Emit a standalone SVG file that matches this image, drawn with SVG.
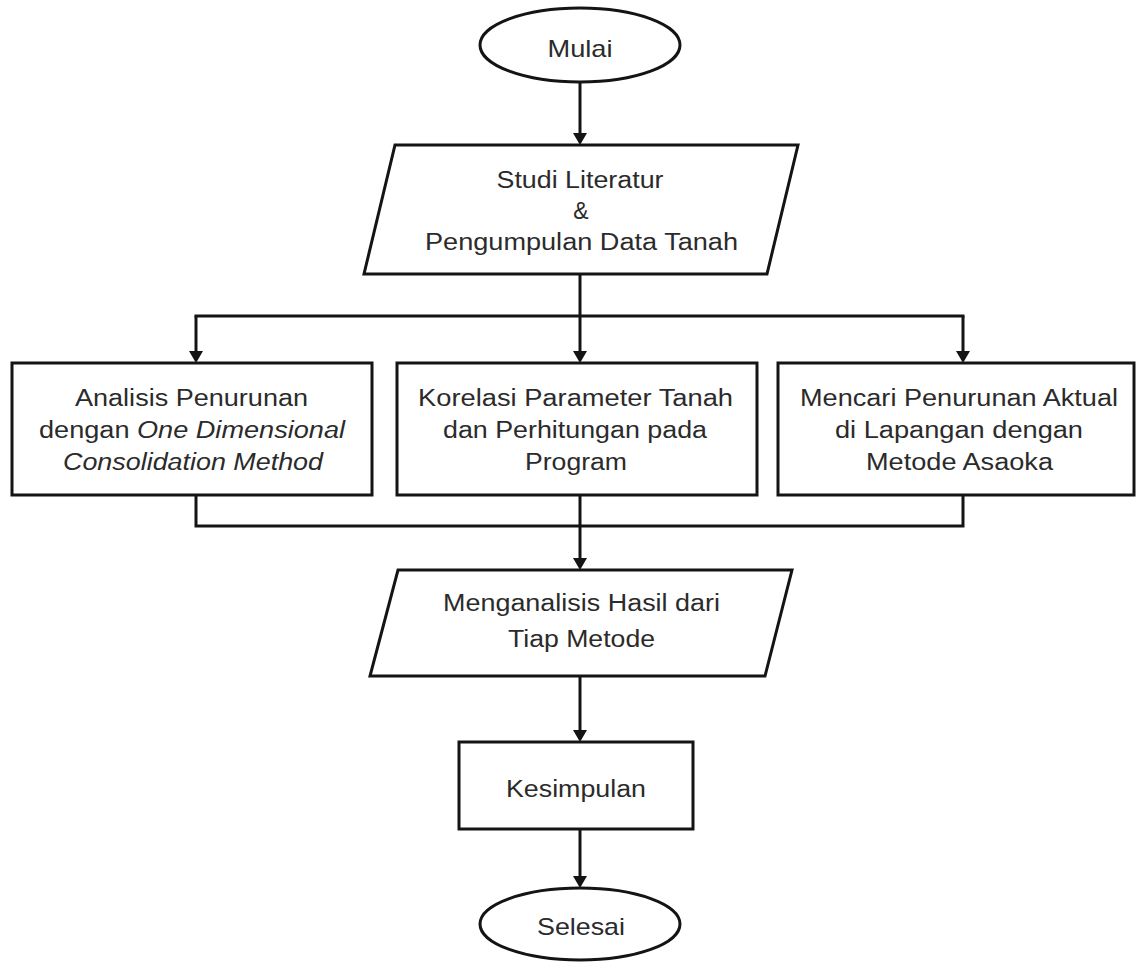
<svg xmlns="http://www.w3.org/2000/svg" width="1136" height="962" viewBox="0 0 1136 962">
  <style>
    .shape { fill: #ffffff; stroke: #141414; stroke-width: 3; stroke-linejoin: miter; }
    .conn { fill: none; stroke: #141414; stroke-width: 3; }
    .lbl { font-family: "Liberation Sans", Arial, sans-serif; font-size: 23px; fill: #2b2b2b; text-anchor: middle; }
    .big { font-size: 24px; }
    .it { font-style: italic; }
  </style>
  <defs>
    <marker id="arrow" markerUnits="userSpaceOnUse" markerWidth="12" markerHeight="14" viewBox="0 0 12 14" refX="9" refY="7" orient="auto">
      <path d="M0,0 L12,7 L0,14 z" fill="#141414"/>
    </marker>
  </defs>
  <rect width="1136" height="962" fill="#ffffff"/>

  <g id="connectors">
    <line class="conn" x1="580" y1="82" x2="580" y2="142" marker-end="url(#arrow)"/>
    <line class="conn" x1="580" y1="274" x2="580" y2="316"/>
    <line class="conn" x1="194.5" y1="316" x2="964.5" y2="316"/>
    <line class="conn" x1="196" y1="316" x2="196" y2="360" marker-end="url(#arrow)"/>
    <line class="conn" x1="580" y1="316" x2="580" y2="360" marker-end="url(#arrow)"/>
    <line class="conn" x1="963" y1="316" x2="963" y2="360" marker-end="url(#arrow)"/>
    <polyline class="conn" points="196,495 196,526 963,526 963,495"/>
    <line class="conn" x1="580" y1="495" x2="580" y2="567" marker-end="url(#arrow)"/>
    <line class="conn" x1="580" y1="676" x2="580" y2="739" marker-end="url(#arrow)"/>
    <line class="conn" x1="580" y1="829" x2="580" y2="885" marker-end="url(#arrow)"/>
  </g>

  <g id="mulai">
    <ellipse class="shape" cx="580" cy="45" rx="100" ry="37"/>
    <text class="lbl big" x="580" y="57" textLength="65" lengthAdjust="spacingAndGlyphs">Mulai</text>
  </g>

  <g id="studi">
    <polygon class="shape" points="395,145 798,145 767,274 364,274"/>
    <text class="lbl" x="580" y="188" textLength="167" lengthAdjust="spacingAndGlyphs">Studi Literatur</text>
    <text class="lbl" x="581" y="219">&amp;</text>
    <text class="lbl" x="581.5" y="250" textLength="313" lengthAdjust="spacingAndGlyphs">Pengumpulan Data Tanah</text>
  </g>

  <g id="analisis">
    <rect class="shape" x="12" y="363" width="360" height="132"/>
    <text class="lbl" x="191.5" y="406" textLength="233" lengthAdjust="spacingAndGlyphs">Analisis Penurunan</text>
    <text class="lbl" x="192" y="438" textLength="306" lengthAdjust="spacingAndGlyphs">dengan <tspan class="it">One Dimensional</tspan></text>
    <text class="lbl it" x="193" y="470" textLength="260" lengthAdjust="spacingAndGlyphs">Consolidation Method</text>
  </g>

  <g id="korelasi">
    <rect class="shape" x="397" y="363" width="360" height="132"/>
    <text class="lbl" x="575.5" y="406" textLength="315" lengthAdjust="spacingAndGlyphs">Korelasi Parameter Tanah</text>
    <text class="lbl" x="575" y="438" textLength="264" lengthAdjust="spacingAndGlyphs">dan Perhitungan pada</text>
    <text class="lbl" x="576" y="470" textLength="102" lengthAdjust="spacingAndGlyphs">Program</text>
  </g>

  <g id="mencari">
    <rect class="shape" x="778" y="363" width="356" height="132"/>
    <text class="lbl" x="959" y="406" textLength="318" lengthAdjust="spacingAndGlyphs">Mencari Penurunan Aktual</text>
    <text class="lbl" x="959" y="438" textLength="248" lengthAdjust="spacingAndGlyphs">di Lapangan dengan</text>
    <text class="lbl" x="959.5" y="470" textLength="187" lengthAdjust="spacingAndGlyphs">Metode Asaoka</text>
  </g>

  <g id="menganalisis">
    <polygon class="shape" points="398,570 792,570 765,676 370,676"/>
    <text class="lbl" x="581.5" y="611" textLength="277" lengthAdjust="spacingAndGlyphs">Menganalisis Hasil dari</text>
    <text class="lbl" x="581.5" y="647" textLength="147" lengthAdjust="spacingAndGlyphs">Tiap Metode</text>
  </g>

  <g id="kesimpulan">
    <rect class="shape" x="459" y="742" width="234" height="87"/>
    <text class="lbl" x="576" y="797" textLength="140" lengthAdjust="spacingAndGlyphs">Kesimpulan</text>
  </g>

  <g id="selesai">
    <ellipse class="shape" cx="580" cy="924" rx="100" ry="36"/>
    <text class="lbl big" x="581" y="935" textLength="88" lengthAdjust="spacingAndGlyphs">Selesai</text>
  </g>
</svg>
